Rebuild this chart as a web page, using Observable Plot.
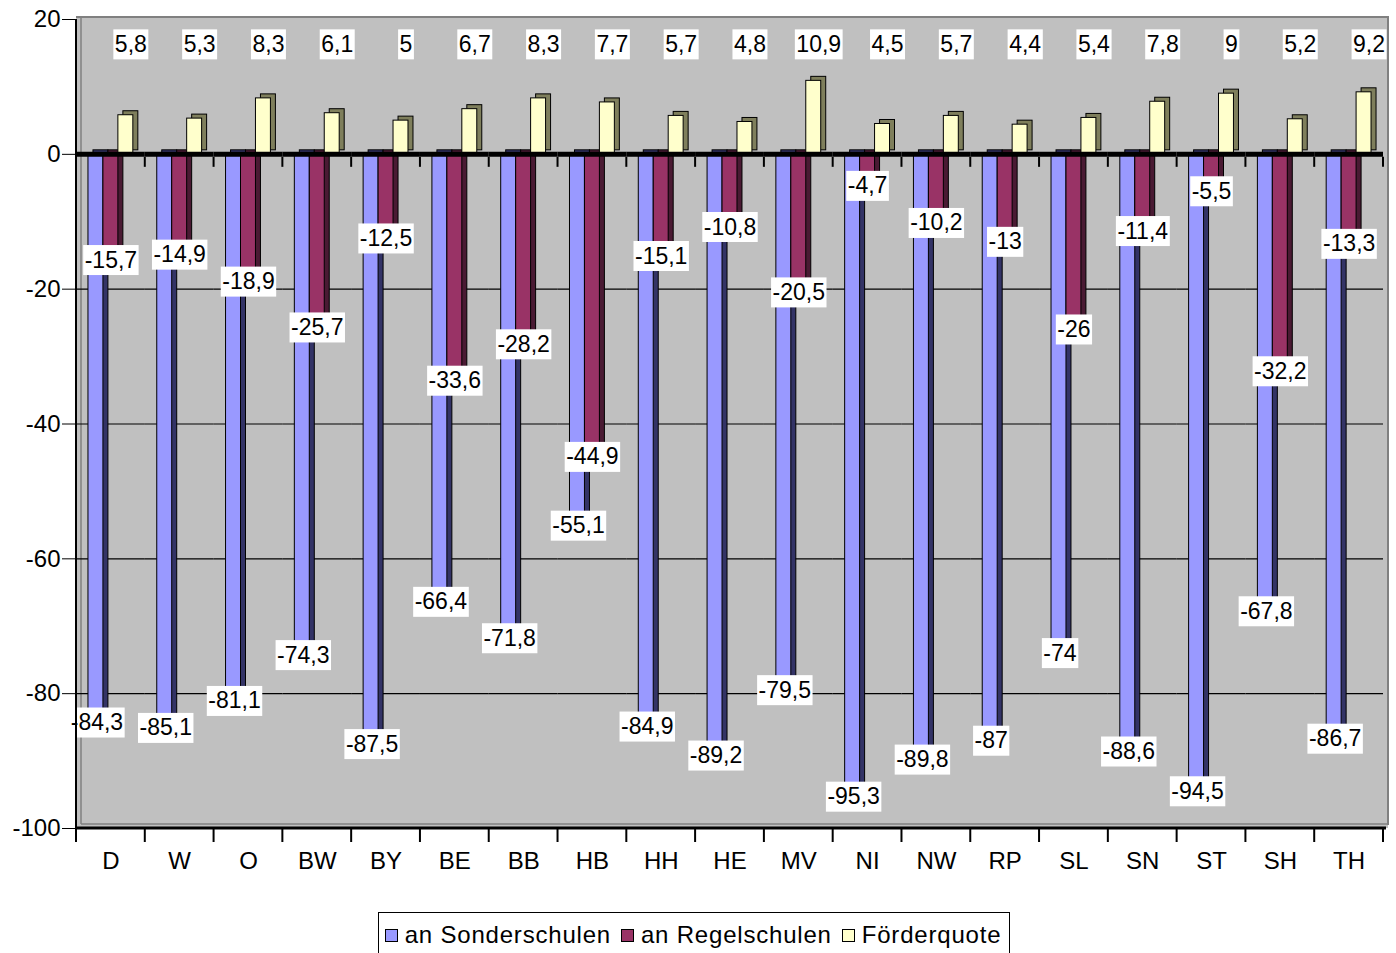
<!DOCTYPE html>
<html>
<head>
<meta charset="utf-8">
<script src="https://cdn.jsdelivr.net/npm/d3@7"></script>
<script src="https://cdn.jsdelivr.net/npm/@observablehq/plot@0.6"></script>
<style>
  html, body { margin: 0; padding: 0; background: #fff; }
  body { font-family: "Liberation Sans", Arial, sans-serif; width: 1396px; }
  #chart svg { display: block; }
  #legend { display: flex; justify-content: center; margin-top: 17px; position: relative; left: -4px; }
  #legend .box { border: 1px solid #000; display: flex; align-items: center; padding: 8px 6px 8px 6px; font-size: 24px; letter-spacing: 0.8px; color: #000; line-height: 28px; }
  #legend .item { display: flex; align-items: center; margin-right: 10px; }
  #legend .item:last-child { margin-right: 2px; }
  #legend .sw { width: 13px; height: 13px; border: 1px solid #000; margin-right: 7px; box-sizing: border-box; }
</style>
</head>
<body>
<div id="chart"></div>
<div id="legend"></div>
<script>
// ---- data ----
const laender = ["D","W","O","BW","BY","BE","BB","HB","HH","HE","MV","NI","NW","RP","SL","SN","ST","SH","TH"];
const sonderschulen = [-84.3,-85.1,-81.1,-74.3,-87.5,-66.4,-71.8,-55.1,-84.9,-89.2,-79.5,-95.3,-89.8,-87,-74,-88.6,-94.5,-67.8,-86.7];
const regelschulen  = [-15.7,-14.9,-18.9,-25.7,-12.5,-33.6,-28.2,-44.9,-15.1,-10.8,-20.5,-4.7,-10.2,-13,-26,-11.4,-5.5,-32.2,-13.3];
const foerderquote  = [5.8,5.3,8.3,6.1,5,6.7,8.3,7.7,5.7,4.8,10.9,4.5,5.7,4.4,5.4,7.8,9,5.2,9.2];
const series = ["an Sonderschulen","an Regelschulen","Förderquote"];
const yTicks = [20,0,-20,-40,-60,-80,-100];
const gridTicks = [-20,-40,-60,-80];

// ---- styles ----
const colors = ["#9999FF","#993366","#FFFFCC"];
const sideColors = ["#333366","#4A1A33","#7F7F5C"];
const W = 1396, H = 895;
const M = {top: 19, right: 13, bottom: 67, left: 76};

const rows = laender.flatMap((land, i) => [
  {land, serie: series[0], value: sonderschulen[i]},
  {land, serie: series[1], value: regelschulen[i]},
  {land, serie: series[2], value: foerderquote[i]}
]);
const bySerie = s => rows.filter(d => d.serie === s);
const fmt = v => String(v).replace(".", ",");

const barMarks = series.flatMap((s, k) => [
  Plot.barY(bySerie(s), {fx: "land", x: "serie", y: "value", fill: sideColors[k], stroke: "black", strokeWidth: 1, dx: 5, dy: -4}),
  Plot.barY(bySerie(s), {fx: "land", x: "serie", y: "value", fill: colors[k], stroke: "black", strokeWidth: 1})
]);

const chart = Plot.plot({
  width: W, height: H,
  marginTop: M.top, marginRight: M.right, marginBottom: M.bottom, marginLeft: M.left,
  style: {fontFamily: "'Liberation Sans', Arial, sans-serif", fontSize: "24px", background: "transparent", color: "black", overflow: "visible"},
  fx: {domain: laender, padding: 0, round: false, axis: "bottom", tickSize: 0, tickPadding: 23, label: null},
  x: {domain: series, paddingInner: 0, paddingOuter: 0.8, round: false, axis: null},
  y: {domain: [-100, 20], ticks: yTicks, tickSize: 14, tickPadding: 2, label: null, tickFormat: d => String(d)},
  marks: [
    Plot.ruleY(gridTicks, {stroke: "black", strokeWidth: 1.2}),
    ...barMarks,
    Plot.ruleY([0], {stroke: "black", strokeWidth: 5}),
    Plot.text(bySerie(series[2]), {fx: "land", x: "serie", frameAnchor: "top", lineAnchor: "middle", dy: 25, dx: 5, text: d => fmt(d.value), fontSize: 23, fill: "black"}),
    Plot.text(bySerie(series[1]), {fx: "land", x: "serie", y: "value", dx: 0, text: d => fmt(d.value), fontSize: 23, fill: "black"}),
    Plot.text(bySerie(series[0]), {fx: "land", x: "serie", y: "value", dx: 1, text: d => fmt(d.value), fontSize: 23, fill: "black"})
  ]
});

document.getElementById("chart").append(chart);

// ---- decoration derived from the plot's scales ----
const svg = d3.select(chart);
const ysd = chart.scale("y");
const y = d3.scaleLinear(ysd.domain, ysd.range);
const fsd = chart.scale("fx");
const fxRange = (fsd && fsd.range) ? fsd.range : [M.left, W - M.right];
const fx = d3.scaleBand(laender, fxRange).padding(0);
const left = fxRange[0], right = fxRange[1];
const yTop = y(20) - 2, yBot = y(-100);

// background (behind everything)
const bg = svg.insert("g", ":first-child");
bg.append("rect").attr("x", left).attr("y", yTop).attr("width", right + 5 - left).attr("height", yBot - yTop).attr("fill", "#C0C0C0");
bg.append("line").attr("x1", left + 5).attr("x2", left + 5).attr("y1", yTop).attr("y2", yBot - 4).attr("stroke", "#808080").attr("stroke-width", 1.5);
bg.append("line").attr("x1", left + 5).attr("x2", right + 5).attr("y1", yBot - 4).attr("y2", yBot - 4).attr("stroke", "#808080").attr("stroke-width", 1.5);

// foreground decorations
const fg = svg.append("g");
fg.append("line").attr("x1", left).attr("x2", right + 6).attr("y1", yTop).attr("y2", yTop).attr("stroke", "#808080").attr("stroke-width", 2);
fg.append("line").attr("x1", right + 5).attr("x2", right + 5).attr("y1", yTop).attr("y2", yBot - 3).attr("stroke", "#808080").attr("stroke-width", 2);
fg.append("line").attr("x1", left).attr("x2", left).attr("y1", y(20)).attr("y2", yBot).attr("stroke", "black").attr("stroke-width", 2);
fg.append("line").attr("x1", left).attr("x2", right + 3).attr("y1", yBot).attr("y2", yBot).attr("stroke", "black").attr("stroke-width", 3);
laender.forEach((l, i) => {
  const xs = fx(l);
  fg.append("line").attr("x1", xs).attr("x2", xs).attr("y1", yBot).attr("y2", yBot + 14).attr("stroke", "black").attr("stroke-width", 2);
  if (i > 0) fg.append("line").attr("x1", xs).attr("x2", xs).attr("y1", y(0) + 3).attr("y2", y(0) + 13).attr("stroke", "black").attr("stroke-width", 2);
});
fg.append("line").attr("x1", right).attr("x2", right).attr("y1", yBot).attr("y2", yBot + 14).attr("stroke", "black").attr("stroke-width", 2);
fg.append("line").attr("x1", right).attr("x2", right).attr("y1", y(0) + 3).attr("y2", y(0) + 13).attr("stroke", "black").attr("stroke-width", 2);

// white boxes behind value labels
svg.selectAll('g[aria-label="text"] text').each(function () {
  const b = this.getBBox();
  const r = document.createElementNS("http://www.w3.org/2000/svg", "rect");
  r.setAttribute("x", b.x - 1.5);
  r.setAttribute("y", b.y - 1.5);
  r.setAttribute("width", b.width + 3);
  r.setAttribute("height", b.height + 4);
  r.setAttribute("fill", "white");
  const t = this.getAttribute("transform");
  if (t) r.setAttribute("transform", t);
  this.parentNode.insertBefore(r, this);
});

// legend
const box = d3.select("#legend").append("div").attr("class", "box");
series.forEach((s, k) => {
  const it = box.append("div").attr("class", "item");
  it.append("div").attr("class", "sw").style("background", colors[k]);
  it.append("span").text(s);
});
</script>
</body>
</html>
